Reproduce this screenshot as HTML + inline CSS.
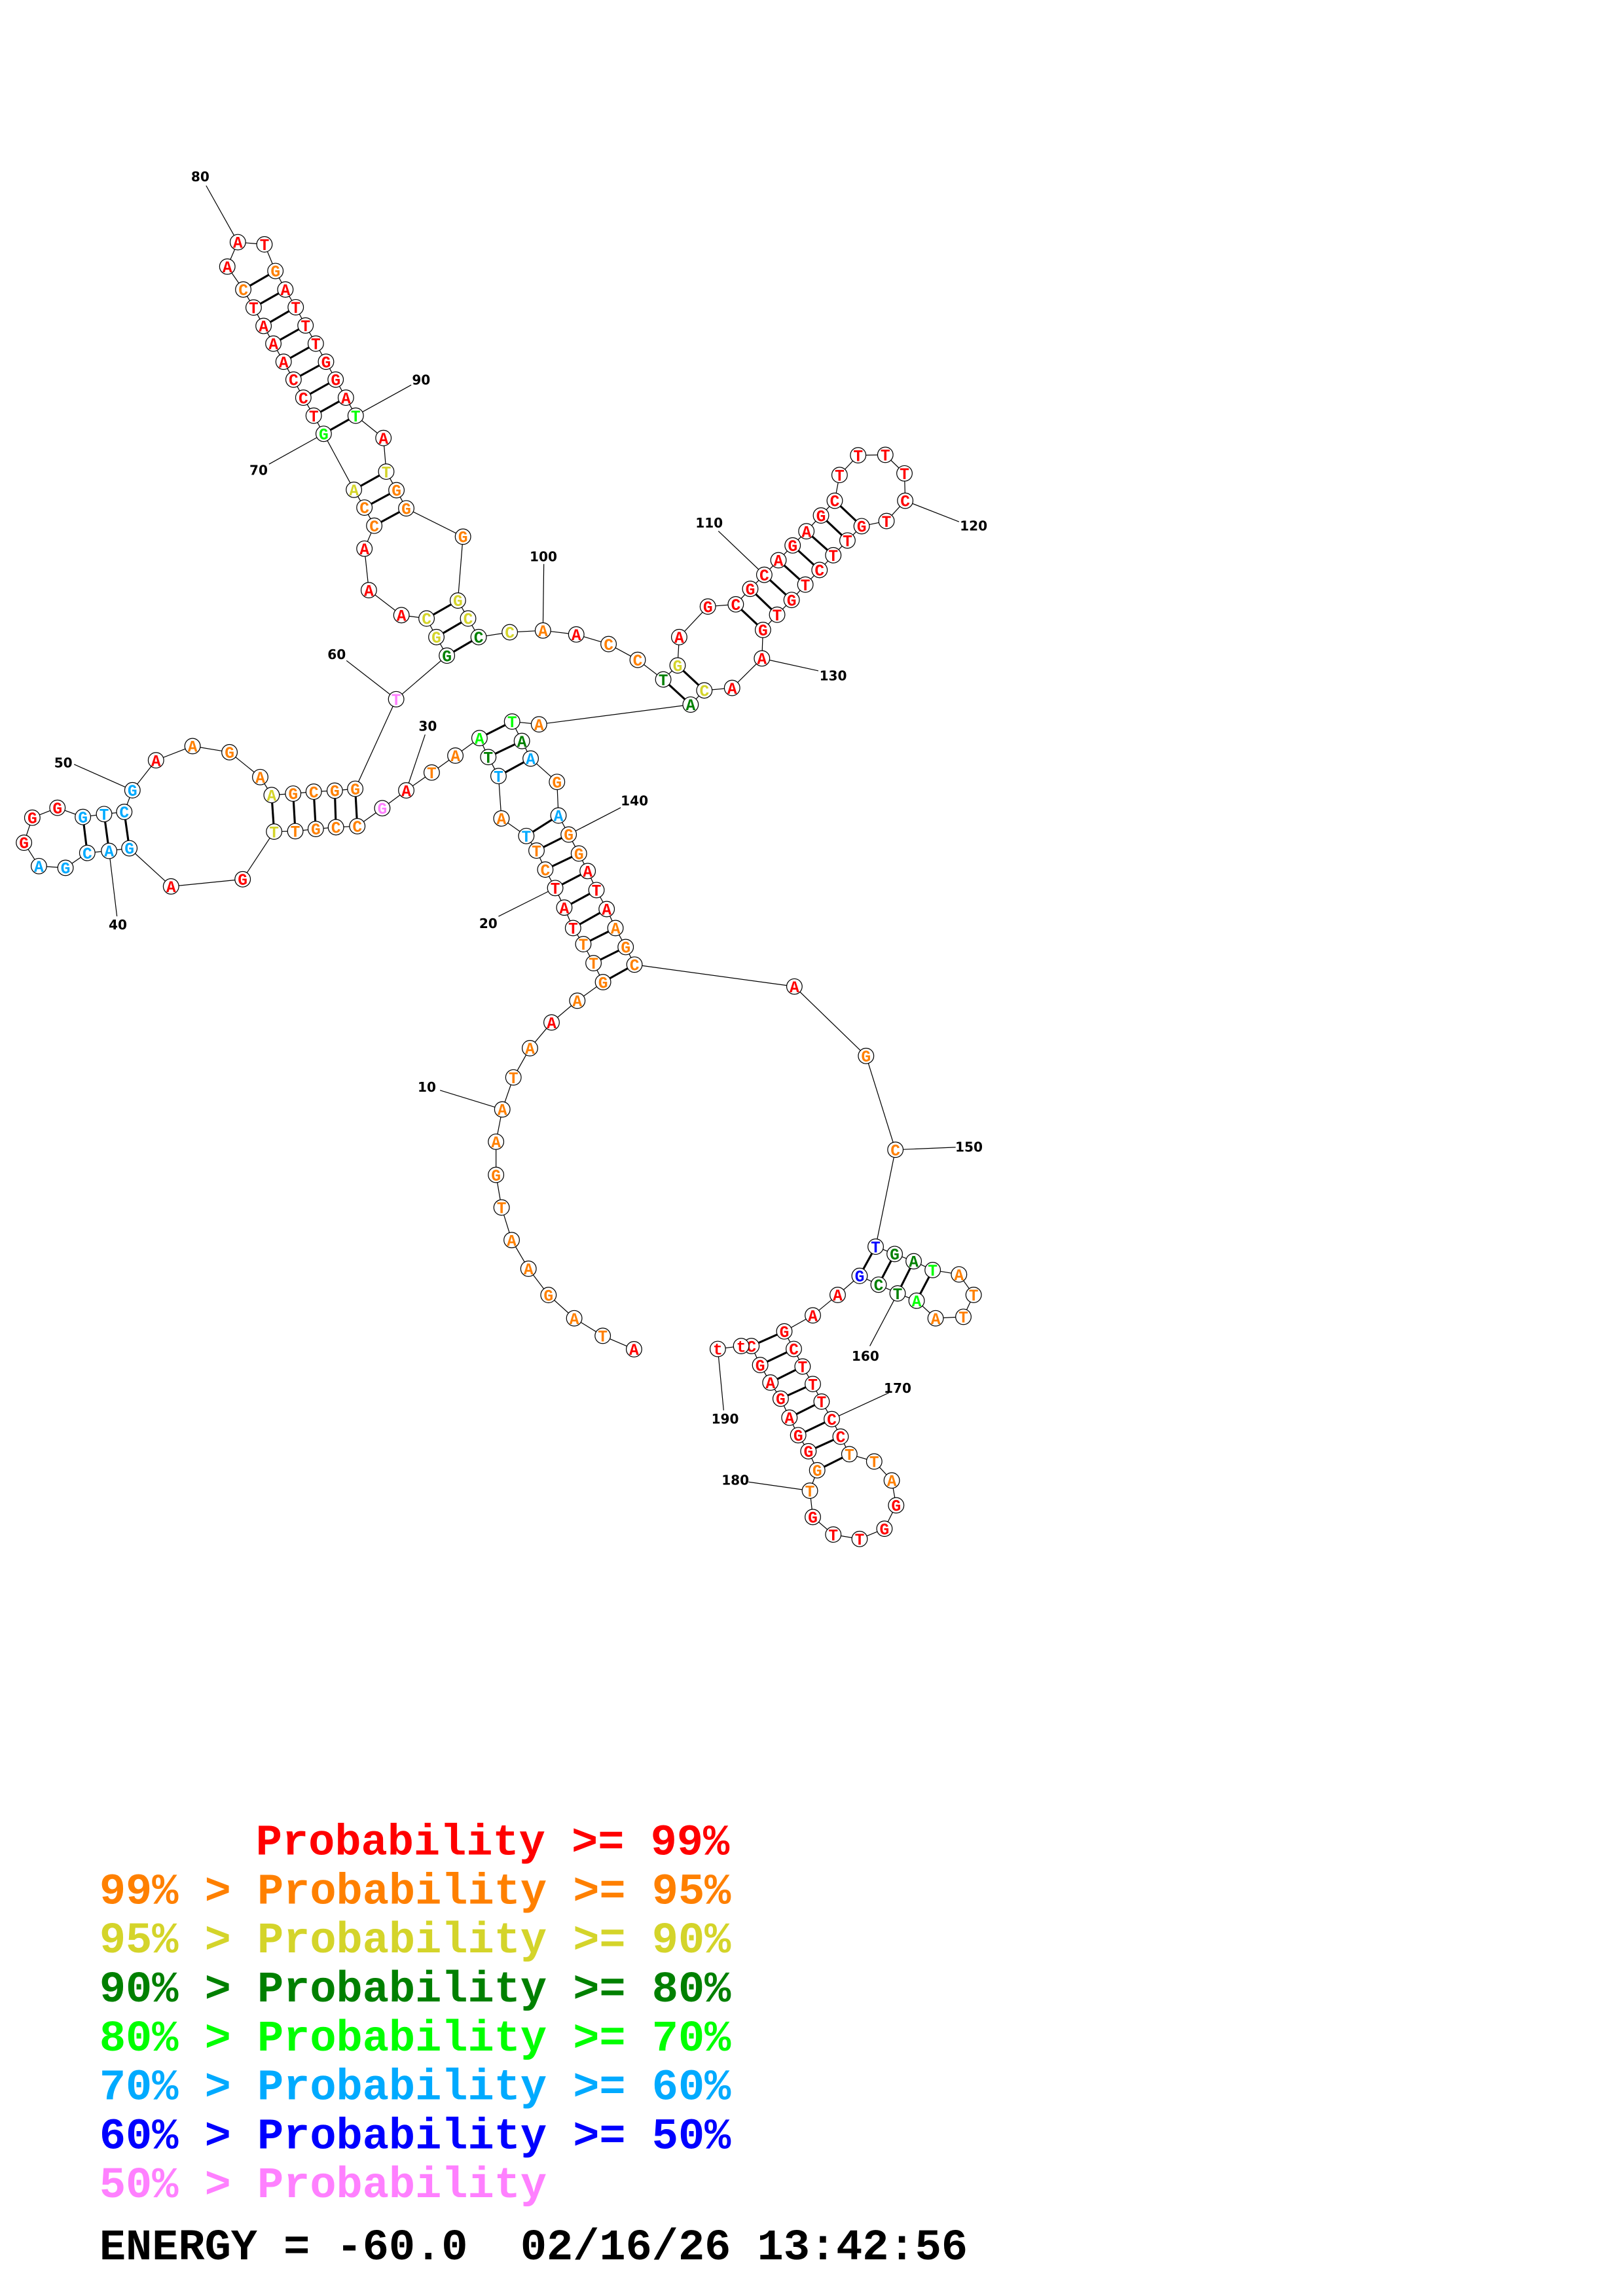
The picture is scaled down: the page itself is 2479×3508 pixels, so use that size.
<!DOCTYPE html>
<html><head><meta charset="utf-8"><style>
html,body{margin:0;padding:0;background:#fff;}
svg{display:block;}
.n circle{fill:#fff;stroke:#000;stroke-width:0.55;}
.n text{font-family:"Liberation Mono",monospace;font-weight:bold;font-size:11px;text-anchor:middle;transform:translateY(0.6px);}
.r{fill:#ff0000}.o{fill:#ff8000}.y{fill:#d4d42a}.d{fill:#008000}.g{fill:#00ff00}.c{fill:#00aaff}.b{fill:#0000ff}.p{fill:#ff80ff}
.lab{font-family:"DejaVu Sans","Liberation Sans",sans-serif;font-weight:bold;font-size:9px;text-anchor:middle;fill:#000;}
.leg{font-family:"Liberation Mono",monospace;font-weight:bold;font-size:30px;}
.bb{fill:none;stroke:#000;stroke-width:0.55;}
.pr line{stroke:#000;stroke-width:1.4;}
.ll line{stroke:#000;stroke-width:0.55;}
</style></head><body>
<svg width="2479" height="3508" viewBox="0 0 1110.2 1571" xmlns="http://www.w3.org/2000/svg">
<polyline class="bb" points="433.7,923.2 412.3,914 392.8,902 375.2,886.1 361.5,868.1 350,848.5 343.1,826.2 339.3,803.9 339.3,781.2 343.6,759.1 351.2,737.2 362.5,717.2 377.3,699.6 394.9,684.7 412.5,672 406,659 399,646 392,635 386,621 379.8,607.6 373,595 367,582 360,572 343,560 341,531 334,518 328,505 311.5,517 295.3,528.6 277.9,540.8 261.5,553 244.4,565.3 229.8,566 216,567.2 202,568.7 187.5,569 166,601.6 117,606.5 88.5,580.4 74.6,582.2 59.7,583.6 44.8,593.8 26.6,592.6 16.4,576.6 22.1,559.5 39.3,552.7 56.7,559 71.2,557 85,555.5 90.6,540.7 106.7,520.2 131.7,510.5 157,514.7 178,531.7 185.8,544 200.5,543 214.6,541.7 229,541 243,539.7 271,478.4 305.7,448.6 298.5,435.9 291.8,423.2 274.6,420.9 252.3,403.8 249.3,375.4 256,359.7 249.3,347.3 242.1,335.1 221.4,296.8 214.6,284.4 207.5,272.1 200.8,259.7 194,247.5 187,235.1 180.3,223 173.5,210.4 166.4,198.1 155.5,182.4 162.7,165.7 180.9,167.2 188.4,185.4 195.2,198.1 202.3,210.2 209,222.7 216,235.1 223,247.5 229.6,259.7 236.6,272.1 243.3,284.4 262.3,299.7 264.2,322.7 271.2,335.4 277.9,347.8 316.7,367.2 313.2,410.9 320.2,423.2 327.4,435.9 348.7,432.6 371.4,431.4 394.2,434.1 416.3,440.7 436.2,451.5 453.7,464.9 463.5,455.3 464.6,435.9 484.2,415 503.3,413.5 513.2,402.9 522.8,393.3 532.5,383.3 542.2,373.2 551.6,363.5 561.6,352.7 571,342.6 574.3,325 587,311.5 605.6,311.2 618.7,323.9 619.2,342.6 606.4,356.5 589.4,360 579.7,369.8 570,379.9 560.6,390 550.9,400 541.5,410.5 531.6,420.6 521.9,431 521.2,450.5 500.8,470.7 481.8,472.4 472.4,482.1 368.7,495.6 350.3,493.7 357,507 363,519 381,535 382,558 389,571 396,584 402,596 408,609 415,622 421,635 428,648 434,660 543.4,675 592.4,722.5 612.5,786.7 599,853 612,858 625,863 638,869 656,872 666,886 659,901 640,902 627,890 614,885 601,879 588,873 573,886 556,900 536.5,911 543,923 549,935 556,947 562,959 569,971 575,983 581,995 598,1000 610,1013 613,1030 605,1046 588,1053 570,1050 556,1038 554,1020 559,1006 553,993 546,982 540,970 534,957 527,946 520,934 514,921 507,921 491,923"/>
<g class="pr">
<line x1="412.5" y1="672" x2="434" y2="660"/><line x1="406" y1="659" x2="428" y2="648"/><line x1="399" y1="646" x2="421" y2="635"/><line x1="392" y1="635" x2="415" y2="622"/><line x1="386" y1="621" x2="408" y2="609"/><line x1="379.8" y1="607.6" x2="402" y2="596"/><line x1="373" y1="595" x2="396" y2="584"/><line x1="367" y1="582" x2="389" y2="571"/><line x1="360" y1="572" x2="382" y2="558"/>
<line x1="341" y1="531" x2="363" y2="519"/><line x1="334" y1="518" x2="357" y2="507"/><line x1="328" y1="505" x2="350.3" y2="493.7"/>
<line x1="244.4" y1="565.3" x2="243" y2="539.7"/><line x1="229.8" y1="566" x2="229" y2="541"/><line x1="216" y1="567.2" x2="214.6" y2="541.7"/><line x1="202" y1="568.7" x2="200.5" y2="543"/><line x1="187.5" y1="569" x2="185.8" y2="544"/>
<line x1="88.5" y1="580.4" x2="85" y2="555.5"/><line x1="74.6" y1="582.2" x2="71.2" y2="557"/><line x1="59.7" y1="583.6" x2="56.7" y2="559"/>
<line x1="305.7" y1="448.6" x2="327.4" y2="435.9"/><line x1="298.5" y1="435.9" x2="320.2" y2="423.2"/><line x1="291.8" y1="423.2" x2="313.2" y2="410.9"/>
<line x1="256" y1="359.7" x2="277.9" y2="347.8"/><line x1="249.3" y1="347.3" x2="271.2" y2="335.4"/><line x1="242.1" y1="335.1" x2="264.2" y2="322.7"/>
<line x1="221.4" y1="296.8" x2="243.3" y2="284.4"/><line x1="214.6" y1="284.4" x2="236.6" y2="272.1"/><line x1="207.5" y1="272.1" x2="229.6" y2="259.7"/><line x1="200.8" y1="259.7" x2="223" y2="247.5"/><line x1="194" y1="247.5" x2="216" y2="235.1"/><line x1="187" y1="235.1" x2="209" y2="222.7"/><line x1="180.3" y1="223" x2="202.3" y2="210.2"/><line x1="173.5" y1="210.4" x2="195.2" y2="198.1"/><line x1="166.4" y1="198.1" x2="188.4" y2="185.4"/>
<line x1="453.7" y1="464.9" x2="472.4" y2="482.1"/><line x1="463.5" y1="455.3" x2="481.8" y2="472.4"/>
<line x1="503.3" y1="413.5" x2="521.9" y2="431"/><line x1="513.2" y1="402.9" x2="531.6" y2="420.6"/><line x1="522.8" y1="393.3" x2="541.5" y2="410.5"/><line x1="532.5" y1="383.3" x2="550.9" y2="400"/><line x1="542.2" y1="373.2" x2="560.6" y2="390"/><line x1="551.6" y1="363.5" x2="570" y2="379.9"/><line x1="561.6" y1="352.7" x2="579.7" y2="369.8"/><line x1="571" y1="342.6" x2="589.4" y2="360"/>
<line x1="599" y1="853" x2="588" y2="873"/><line x1="612" y1="858" x2="601" y2="879"/><line x1="625" y1="863" x2="614" y2="885"/><line x1="638" y1="869" x2="627" y2="890"/>
<line x1="536.5" y1="911" x2="514" y2="921"/><line x1="543" y1="923" x2="520" y2="934"/><line x1="549" y1="935" x2="527" y2="946"/><line x1="556" y1="947" x2="534" y2="957"/><line x1="562" y1="959" x2="540" y2="970"/><line x1="569" y1="971" x2="546" y2="982"/><line x1="575" y1="983" x2="553" y2="993"/><line x1="581" y1="995" x2="559" y2="1006"/>
</g>
<g class="ll">
<line x1="343.6" y1="759.1" x2="301" y2="746"/>
<line x1="379.8" y1="607.6" x2="341" y2="627"/>
<line x1="277.9" y1="540.8" x2="290.8" y2="502.6"/>
<line x1="74.6" y1="582.2" x2="80" y2="627"/>
<line x1="90.6" y1="540.7" x2="50.7" y2="523"/>
<line x1="271" y1="478.4" x2="237" y2="452"/>
<line x1="221.4" y1="296.8" x2="184" y2="317.6"/>
<line x1="162.7" y1="165.7" x2="141" y2="127"/>
<line x1="243.3" y1="284.4" x2="281.3" y2="263.4"/>
<line x1="371.4" y1="431.4" x2="372" y2="385.9"/>
<line x1="522.8" y1="393.3" x2="491.4" y2="363.4"/>
<line x1="619.2" y1="342.6" x2="656" y2="357"/>
<line x1="521.2" y1="450.5" x2="559.8" y2="459"/>
<line x1="389" y1="571" x2="424.6" y2="552.6"/>
<line x1="612.5" y1="786.7" x2="653.7" y2="785"/>
<line x1="614" y1="885" x2="595" y2="921"/>
<line x1="569" y1="971" x2="608" y2="953"/>
<line x1="554" y1="1020" x2="512" y2="1014"/>
<line x1="491" y1="923" x2="495" y2="965"/>
</g>
<g class="lab">
<text x="292" y="747">10</text><text x="334" y="635">20</text><text x="292.6" y="500">30</text><text x="80.6" y="636">40</text><text x="43.3" y="525">50</text><text x="230.3" y="451">60</text><text x="176.9" y="325">70</text><text x="137" y="124">80</text><text x="288.1" y="263">90</text><text x="371.7" y="384">100</text><text x="485.1" y="361">110</text><text x="666" y="363">120</text><text x="569.9" y="465.5">130</text><text x="434" y="551">140</text><text x="662.8" y="788">150</text><text x="592" y="931">160</text><text x="614" y="953">170</text><text x="503" y="1016">180</text><text x="496" y="974">190</text>
</g>
<g class="n">
<circle cx="433.7" cy="923.2" r="5.3"/><text x="433.7" y="926.5" class="r">A</text>
<circle cx="412.3" cy="914" r="5.3"/><text x="412.3" y="917.3" class="o">T</text>
<circle cx="392.8" cy="902" r="5.3"/><text x="392.8" y="905.3" class="o">A</text>
<circle cx="375.2" cy="886.1" r="5.3"/><text x="375.2" y="889.4" class="o">G</text>
<circle cx="361.5" cy="868.1" r="5.3"/><text x="361.5" y="871.4" class="o">A</text>
<circle cx="350" cy="848.5" r="5.3"/><text x="350" y="851.8" class="o">A</text>
<circle cx="343.1" cy="826.2" r="5.3"/><text x="343.1" y="829.5" class="o">T</text>
<circle cx="339.3" cy="803.9" r="5.3"/><text x="339.3" y="807.2" class="o">G</text>
<circle cx="339.3" cy="781.2" r="5.3"/><text x="339.3" y="784.5" class="o">A</text>
<circle cx="343.6" cy="759.1" r="5.3"/><text x="343.6" y="762.4" class="o">A</text>
<circle cx="351.2" cy="737.2" r="5.3"/><text x="351.2" y="740.5" class="o">T</text>
<circle cx="362.5" cy="717.2" r="5.3"/><text x="362.5" y="720.5" class="o">A</text>
<circle cx="377.3" cy="699.6" r="5.3"/><text x="377.3" y="702.9" class="r">A</text>
<circle cx="394.9" cy="684.7" r="5.3"/><text x="394.9" y="688" class="o">A</text>
<circle cx="412.5" cy="672" r="5.3"/><text x="412.5" y="675.3" class="o">G</text>
<circle cx="406" cy="659" r="5.3"/><text x="406" y="662.3" class="o">T</text>
<circle cx="399" cy="646" r="5.3"/><text x="399" y="649.3" class="o">T</text>
<circle cx="392" cy="635" r="5.3"/><text x="392" y="638.3" class="r">T</text>
<circle cx="386" cy="621" r="5.3"/><text x="386" y="624.3" class="r">A</text>
<circle cx="379.8" cy="607.6" r="5.3"/><text x="379.8" y="610.9" class="r">T</text>
<circle cx="373" cy="595" r="5.3"/><text x="373" y="598.3" class="o">C</text>
<circle cx="367" cy="582" r="5.3"/><text x="367" y="585.3" class="o">T</text>
<circle cx="360" cy="572" r="5.3"/><text x="360" y="575.3" class="c">T</text>
<circle cx="343" cy="560" r="5.3"/><text x="343" y="563.3" class="o">A</text>
<circle cx="341" cy="531" r="5.3"/><text x="341" y="534.3" class="c">T</text>
<circle cx="334" cy="518" r="5.3"/><text x="334" y="521.3" class="d">T</text>
<circle cx="328" cy="505" r="5.3"/><text x="328" y="508.3" class="g">A</text>
<circle cx="311.5" cy="517" r="5.3"/><text x="311.5" y="520.3" class="o">A</text>
<circle cx="295.3" cy="528.6" r="5.3"/><text x="295.3" y="531.9" class="o">T</text>
<circle cx="277.9" cy="540.8" r="5.3"/><text x="277.9" y="544.1" class="r">A</text>
<circle cx="261.5" cy="553" r="5.3"/><text x="261.5" y="556.3" class="p">G</text>
<circle cx="244.4" cy="565.3" r="5.3"/><text x="244.4" y="568.6" class="o">C</text>
<circle cx="229.8" cy="566" r="5.3"/><text x="229.8" y="569.3" class="o">C</text>
<circle cx="216" cy="567.2" r="5.3"/><text x="216" y="570.5" class="o">G</text>
<circle cx="202" cy="568.7" r="5.3"/><text x="202" y="572" class="o">T</text>
<circle cx="187.5" cy="569" r="5.3"/><text x="187.5" y="572.3" class="y">T</text>
<circle cx="166" cy="601.6" r="5.3"/><text x="166" y="604.9" class="r">G</text>
<circle cx="117" cy="606.5" r="5.3"/><text x="117" y="609.8" class="r">A</text>
<circle cx="88.5" cy="580.4" r="5.3"/><text x="88.5" y="583.7" class="c">G</text>
<circle cx="74.6" cy="582.2" r="5.3"/><text x="74.6" y="585.5" class="c">A</text>
<circle cx="59.7" cy="583.6" r="5.3"/><text x="59.7" y="586.9" class="c">C</text>
<circle cx="44.8" cy="593.8" r="5.3"/><text x="44.8" y="597.1" class="c">G</text>
<circle cx="26.6" cy="592.6" r="5.3"/><text x="26.6" y="595.9" class="c">A</text>
<circle cx="16.4" cy="576.6" r="5.3"/><text x="16.4" y="579.9" class="r">G</text>
<circle cx="22.1" cy="559.5" r="5.3"/><text x="22.1" y="562.8" class="r">G</text>
<circle cx="39.3" cy="552.7" r="5.3"/><text x="39.3" y="556" class="r">G</text>
<circle cx="56.7" cy="559" r="5.3"/><text x="56.7" y="562.3" class="c">G</text>
<circle cx="71.2" cy="557" r="5.3"/><text x="71.2" y="560.3" class="c">T</text>
<circle cx="85" cy="555.5" r="5.3"/><text x="85" y="558.8" class="c">C</text>
<circle cx="90.6" cy="540.7" r="5.3"/><text x="90.6" y="544" class="c">G</text>
<circle cx="106.7" cy="520.2" r="5.3"/><text x="106.7" y="523.5" class="r">A</text>
<circle cx="131.7" cy="510.5" r="5.3"/><text x="131.7" y="513.8" class="o">A</text>
<circle cx="157" cy="514.7" r="5.3"/><text x="157" y="518" class="o">G</text>
<circle cx="178" cy="531.7" r="5.3"/><text x="178" y="535" class="o">A</text>
<circle cx="185.8" cy="544" r="5.3"/><text x="185.8" y="547.3" class="y">A</text>
<circle cx="200.5" cy="543" r="5.3"/><text x="200.5" y="546.3" class="o">G</text>
<circle cx="214.6" cy="541.7" r="5.3"/><text x="214.6" y="545" class="o">C</text>
<circle cx="229" cy="541" r="5.3"/><text x="229" y="544.3" class="o">G</text>
<circle cx="243" cy="539.7" r="5.3"/><text x="243" y="543" class="o">G</text>
<circle cx="271" cy="478.4" r="5.3"/><text x="271" y="481.7" class="p">T</text>
<circle cx="305.7" cy="448.6" r="5.3"/><text x="305.7" y="451.9" class="d">G</text>
<circle cx="298.5" cy="435.9" r="5.3"/><text x="298.5" y="439.2" class="y">G</text>
<circle cx="291.8" cy="423.2" r="5.3"/><text x="291.8" y="426.5" class="y">C</text>
<circle cx="274.6" cy="420.9" r="5.3"/><text x="274.6" y="424.2" class="r">A</text>
<circle cx="252.3" cy="403.8" r="5.3"/><text x="252.3" y="407.1" class="r">A</text>
<circle cx="249.3" cy="375.4" r="5.3"/><text x="249.3" y="378.7" class="r">A</text>
<circle cx="256" cy="359.7" r="5.3"/><text x="256" y="363" class="o">C</text>
<circle cx="249.3" cy="347.3" r="5.3"/><text x="249.3" y="350.6" class="o">C</text>
<circle cx="242.1" cy="335.1" r="5.3"/><text x="242.1" y="338.4" class="y">A</text>
<circle cx="221.4" cy="296.8" r="5.3"/><text x="221.4" y="300.1" class="g">G</text>
<circle cx="214.6" cy="284.4" r="5.3"/><text x="214.6" y="287.7" class="r">T</text>
<circle cx="207.5" cy="272.1" r="5.3"/><text x="207.5" y="275.4" class="r">C</text>
<circle cx="200.8" cy="259.7" r="5.3"/><text x="200.8" y="263" class="r">C</text>
<circle cx="194" cy="247.5" r="5.3"/><text x="194" y="250.8" class="r">A</text>
<circle cx="187" cy="235.1" r="5.3"/><text x="187" y="238.4" class="r">A</text>
<circle cx="180.3" cy="223" r="5.3"/><text x="180.3" y="226.3" class="r">A</text>
<circle cx="173.5" cy="210.4" r="5.3"/><text x="173.5" y="213.7" class="r">T</text>
<circle cx="166.4" cy="198.1" r="5.3"/><text x="166.4" y="201.4" class="o">C</text>
<circle cx="155.5" cy="182.4" r="5.3"/><text x="155.5" y="185.7" class="r">A</text>
<circle cx="162.7" cy="165.7" r="5.3"/><text x="162.7" y="169" class="r">A</text>
<circle cx="180.9" cy="167.2" r="5.3"/><text x="180.9" y="170.5" class="r">T</text>
<circle cx="188.4" cy="185.4" r="5.3"/><text x="188.4" y="188.7" class="o">G</text>
<circle cx="195.2" cy="198.1" r="5.3"/><text x="195.2" y="201.4" class="r">A</text>
<circle cx="202.3" cy="210.2" r="5.3"/><text x="202.3" y="213.5" class="r">T</text>
<circle cx="209" cy="222.7" r="5.3"/><text x="209" y="226" class="r">T</text>
<circle cx="216" cy="235.1" r="5.3"/><text x="216" y="238.4" class="r">T</text>
<circle cx="223" cy="247.5" r="5.3"/><text x="223" y="250.8" class="r">G</text>
<circle cx="229.6" cy="259.7" r="5.3"/><text x="229.6" y="263" class="r">G</text>
<circle cx="236.6" cy="272.1" r="5.3"/><text x="236.6" y="275.4" class="r">A</text>
<circle cx="243.3" cy="284.4" r="5.3"/><text x="243.3" y="287.7" class="g">T</text>
<circle cx="262.3" cy="299.7" r="5.3"/><text x="262.3" y="303" class="r">A</text>
<circle cx="264.2" cy="322.7" r="5.3"/><text x="264.2" y="326" class="y">T</text>
<circle cx="271.2" cy="335.4" r="5.3"/><text x="271.2" y="338.7" class="o">G</text>
<circle cx="277.9" cy="347.8" r="5.3"/><text x="277.9" y="351.1" class="o">G</text>
<circle cx="316.7" cy="367.2" r="5.3"/><text x="316.7" y="370.5" class="o">G</text>
<circle cx="313.2" cy="410.9" r="5.3"/><text x="313.2" y="414.2" class="y">G</text>
<circle cx="320.2" cy="423.2" r="5.3"/><text x="320.2" y="426.5" class="y">C</text>
<circle cx="327.4" cy="435.9" r="5.3"/><text x="327.4" y="439.2" class="d">C</text>
<circle cx="348.7" cy="432.6" r="5.3"/><text x="348.7" y="435.9" class="y">C</text>
<circle cx="371.4" cy="431.4" r="5.3"/><text x="371.4" y="434.7" class="o">A</text>
<circle cx="394.2" cy="434.1" r="5.3"/><text x="394.2" y="437.4" class="r">A</text>
<circle cx="416.3" cy="440.7" r="5.3"/><text x="416.3" y="444" class="o">C</text>
<circle cx="436.2" cy="451.5" r="5.3"/><text x="436.2" y="454.8" class="o">C</text>
<circle cx="453.7" cy="464.9" r="5.3"/><text x="453.7" y="468.2" class="d">T</text>
<circle cx="463.5" cy="455.3" r="5.3"/><text x="463.5" y="458.6" class="y">G</text>
<circle cx="464.6" cy="435.9" r="5.3"/><text x="464.6" y="439.2" class="r">A</text>
<circle cx="484.2" cy="415" r="5.3"/><text x="484.2" y="418.3" class="r">G</text>
<circle cx="503.3" cy="413.5" r="5.3"/><text x="503.3" y="416.8" class="r">C</text>
<circle cx="513.2" cy="402.9" r="5.3"/><text x="513.2" y="406.2" class="r">G</text>
<circle cx="522.8" cy="393.3" r="5.3"/><text x="522.8" y="396.6" class="r">C</text>
<circle cx="532.5" cy="383.3" r="5.3"/><text x="532.5" y="386.6" class="r">A</text>
<circle cx="542.2" cy="373.2" r="5.3"/><text x="542.2" y="376.5" class="r">G</text>
<circle cx="551.6" cy="363.5" r="5.3"/><text x="551.6" y="366.8" class="r">A</text>
<circle cx="561.6" cy="352.7" r="5.3"/><text x="561.6" y="356" class="r">G</text>
<circle cx="571" cy="342.6" r="5.3"/><text x="571" y="345.9" class="r">C</text>
<circle cx="574.3" cy="325" r="5.3"/><text x="574.3" y="328.3" class="r">T</text>
<circle cx="587" cy="311.5" r="5.3"/><text x="587" y="314.8" class="r">T</text>
<circle cx="605.6" cy="311.2" r="5.3"/><text x="605.6" y="314.5" class="r">T</text>
<circle cx="618.7" cy="323.9" r="5.3"/><text x="618.7" y="327.2" class="r">T</text>
<circle cx="619.2" cy="342.6" r="5.3"/><text x="619.2" y="345.9" class="r">C</text>
<circle cx="606.4" cy="356.5" r="5.3"/><text x="606.4" y="359.8" class="r">T</text>
<circle cx="589.4" cy="360" r="5.3"/><text x="589.4" y="363.3" class="r">G</text>
<circle cx="579.7" cy="369.8" r="5.3"/><text x="579.7" y="373.1" class="r">T</text>
<circle cx="570" cy="379.9" r="5.3"/><text x="570" y="383.2" class="r">T</text>
<circle cx="560.6" cy="390" r="5.3"/><text x="560.6" y="393.3" class="r">C</text>
<circle cx="550.9" cy="400" r="5.3"/><text x="550.9" y="403.3" class="r">T</text>
<circle cx="541.5" cy="410.5" r="5.3"/><text x="541.5" y="413.8" class="r">G</text>
<circle cx="531.6" cy="420.6" r="5.3"/><text x="531.6" y="423.9" class="r">T</text>
<circle cx="521.9" cy="431" r="5.3"/><text x="521.9" y="434.3" class="r">G</text>
<circle cx="521.2" cy="450.5" r="5.3"/><text x="521.2" y="453.8" class="r">A</text>
<circle cx="500.8" cy="470.7" r="5.3"/><text x="500.8" y="474" class="r">A</text>
<circle cx="481.8" cy="472.4" r="5.3"/><text x="481.8" y="475.7" class="y">C</text>
<circle cx="472.4" cy="482.1" r="5.3"/><text x="472.4" y="485.4" class="d">A</text>
<circle cx="368.7" cy="495.6" r="5.3"/><text x="368.7" y="498.9" class="o">A</text>
<circle cx="350.3" cy="493.7" r="5.3"/><text x="350.3" y="497" class="g">T</text>
<circle cx="357" cy="507" r="5.3"/><text x="357" y="510.3" class="d">A</text>
<circle cx="363" cy="519" r="5.3"/><text x="363" y="522.3" class="c">A</text>
<circle cx="381" cy="535" r="5.3"/><text x="381" y="538.3" class="o">G</text>
<circle cx="382" cy="558" r="5.3"/><text x="382" y="561.3" class="c">A</text>
<circle cx="389" cy="571" r="5.3"/><text x="389" y="574.3" class="o">G</text>
<circle cx="396" cy="584" r="5.3"/><text x="396" y="587.3" class="o">G</text>
<circle cx="402" cy="596" r="5.3"/><text x="402" y="599.3" class="r">A</text>
<circle cx="408" cy="609" r="5.3"/><text x="408" y="612.3" class="r">T</text>
<circle cx="415" cy="622" r="5.3"/><text x="415" y="625.3" class="r">A</text>
<circle cx="421" cy="635" r="5.3"/><text x="421" y="638.3" class="o">A</text>
<circle cx="428" cy="648" r="5.3"/><text x="428" y="651.3" class="o">G</text>
<circle cx="434" cy="660" r="5.3"/><text x="434" y="663.3" class="o">C</text>
<circle cx="543.4" cy="675" r="5.3"/><text x="543.4" y="678.3" class="r">A</text>
<circle cx="592.4" cy="722.5" r="5.3"/><text x="592.4" y="725.8" class="o">G</text>
<circle cx="612.5" cy="786.7" r="5.3"/><text x="612.5" y="790" class="o">C</text>
<circle cx="599" cy="853" r="5.3"/><text x="599" y="856.3" class="b">T</text>
<circle cx="612" cy="858" r="5.3"/><text x="612" y="861.3" class="d">G</text>
<circle cx="625" cy="863" r="5.3"/><text x="625" y="866.3" class="d">A</text>
<circle cx="638" cy="869" r="5.3"/><text x="638" y="872.3" class="g">T</text>
<circle cx="656" cy="872" r="5.3"/><text x="656" y="875.3" class="o">A</text>
<circle cx="666" cy="886" r="5.3"/><text x="666" y="889.3" class="o">T</text>
<circle cx="659" cy="901" r="5.3"/><text x="659" y="904.3" class="o">T</text>
<circle cx="640" cy="902" r="5.3"/><text x="640" y="905.3" class="o">A</text>
<circle cx="627" cy="890" r="5.3"/><text x="627" y="893.3" class="g">A</text>
<circle cx="614" cy="885" r="5.3"/><text x="614" y="888.3" class="d">T</text>
<circle cx="601" cy="879" r="5.3"/><text x="601" y="882.3" class="d">C</text>
<circle cx="588" cy="873" r="5.3"/><text x="588" y="876.3" class="b">G</text>
<circle cx="573" cy="886" r="5.3"/><text x="573" y="889.3" class="r">A</text>
<circle cx="556" cy="900" r="5.3"/><text x="556" y="903.3" class="r">A</text>
<circle cx="536.5" cy="911" r="5.3"/><text x="536.5" y="914.3" class="r">G</text>
<circle cx="543" cy="923" r="5.3"/><text x="543" y="926.3" class="r">C</text>
<circle cx="549" cy="935" r="5.3"/><text x="549" y="938.3" class="r">T</text>
<circle cx="556" cy="947" r="5.3"/><text x="556" y="950.3" class="r">T</text>
<circle cx="562" cy="959" r="5.3"/><text x="562" y="962.3" class="r">T</text>
<circle cx="569" cy="971" r="5.3"/><text x="569" y="974.3" class="r">C</text>
<circle cx="575" cy="983" r="5.3"/><text x="575" y="986.3" class="r">C</text>
<circle cx="581" cy="995" r="5.3"/><text x="581" y="998.3" class="o">T</text>
<circle cx="598" cy="1000" r="5.3"/><text x="598" y="1003.3" class="o">T</text>
<circle cx="610" cy="1013" r="5.3"/><text x="610" y="1016.3" class="o">A</text>
<circle cx="613" cy="1030" r="5.3"/><text x="613" y="1033.3" class="r">G</text>
<circle cx="605" cy="1046" r="5.3"/><text x="605" y="1049.3" class="r">G</text>
<circle cx="588" cy="1053" r="5.3"/><text x="588" y="1056.3" class="r">T</text>
<circle cx="570" cy="1050" r="5.3"/><text x="570" y="1053.3" class="r">T</text>
<circle cx="556" cy="1038" r="5.3"/><text x="556" y="1041.3" class="r">G</text>
<circle cx="554" cy="1020" r="5.3"/><text x="554" y="1023.3" class="o">T</text>
<circle cx="559" cy="1006" r="5.3"/><text x="559" y="1009.3" class="o">G</text>
<circle cx="553" cy="993" r="5.3"/><text x="553" y="996.3" class="r">G</text>
<circle cx="546" cy="982" r="5.3"/><text x="546" y="985.3" class="r">G</text>
<circle cx="540" cy="970" r="5.3"/><text x="540" y="973.3" class="r">A</text>
<circle cx="534" cy="957" r="5.3"/><text x="534" y="960.3" class="r">G</text>
<circle cx="527" cy="946" r="5.3"/><text x="527" y="949.3" class="r">A</text>
<circle cx="520" cy="934" r="5.3"/><text x="520" y="937.3" class="r">G</text>
<circle cx="514" cy="921" r="5.3"/><text x="514" y="924.3" class="r">C</text>
<circle cx="507" cy="921" r="5.3"/><text x="507" y="924.3" class="r">t</text>
<circle cx="491" cy="923" r="5.3"/><text x="491" y="926.3" class="r">t</text>
</g>
<g class="leg">
<text x="175" y="1269" fill="#ff0000" xml:space="preserve">Probability &gt;= 99%</text>
<text x="68" y="1302.5" fill="#ff8000" xml:space="preserve">99% &gt; Probability &gt;= 95%</text>
<text x="68" y="1336" fill="#d4d42a" xml:space="preserve">95% &gt; Probability &gt;= 90%</text>
<text x="68" y="1369.5" fill="#008000" xml:space="preserve">90% &gt; Probability &gt;= 80%</text>
<text x="68" y="1403" fill="#00ff00" xml:space="preserve">80% &gt; Probability &gt;= 70%</text>
<text x="68" y="1436.5" fill="#00aaff" xml:space="preserve">70% &gt; Probability &gt;= 60%</text>
<text x="68" y="1470" fill="#0000ff" xml:space="preserve">60% &gt; Probability &gt;= 50%</text>
<text x="68" y="1503.5" fill="#ff80ff" xml:space="preserve">50% &gt; Probability</text>
<text x="68" y="1546" fill="#000000" xml:space="preserve">ENERGY = -60.0  02/16/26 13:42:56</text>
</g>
</svg>
</body></html>
